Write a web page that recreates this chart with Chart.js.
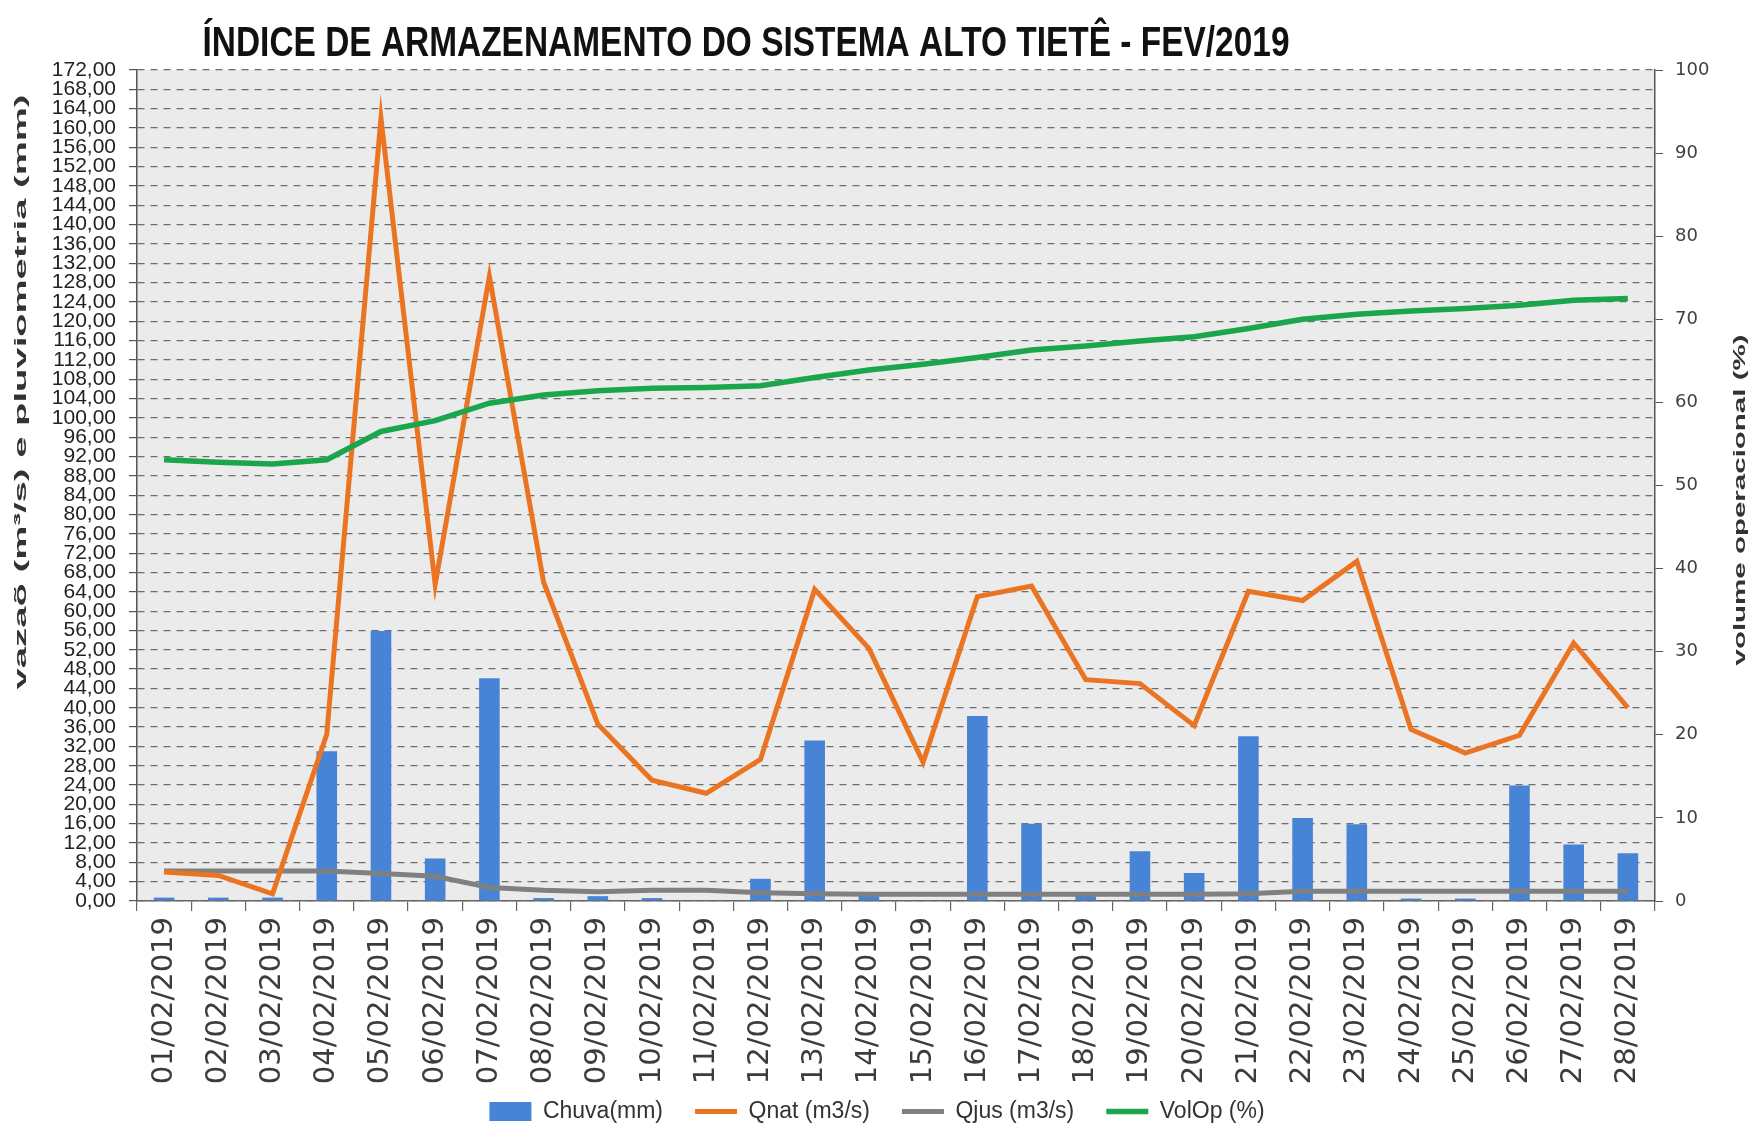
<!DOCTYPE html>
<html lang="pt-BR">
<head>
<meta charset="UTF-8">
<title>Índice de Armazenamento - Alto Tietê</title>
<script src="https://cdn.jsdelivr.net/npm/chart.js"></script>
<style>
    html, body { margin: 0; padding: 0; background: #fff; }
    #wrap { width: 1754px; height: 1125px; position: relative; }
</style>
</head>
<body>
<div id="wrap"><canvas id="chartAltoTiete"></canvas></div>
<script>
// dados de fevereiro/2019
const dias = [
    '01/02/2019', '02/02/2019', '03/02/2019', '04/02/2019', '05/02/2019', '06/02/2019', '07/02/2019',
    '08/02/2019', '09/02/2019', '10/02/2019', '11/02/2019', '12/02/2019', '13/02/2019', '14/02/2019',
    '15/02/2019', '16/02/2019', '17/02/2019', '18/02/2019', '19/02/2019', '20/02/2019', '21/02/2019',
    '22/02/2019', '23/02/2019', '24/02/2019', '25/02/2019', '26/02/2019', '27/02/2019', '28/02/2019'
];
const chuva = [0.7, 0.7, 0.7, 31.0, 55.9, 8.8, 46.1, 0.6, 1.0, 0.6, 0, 4.6, 33.2, 1.2,
               0, 38.3, 16.0, 1.2, 10.3, 5.8, 34.1, 17.2, 15.9, 0.5, 0.5, 23.9, 11.7, 9.9];
const qnat = [6.0, 5.3, 1.5, 34.5, 162.0, 65.5, 129.3, 66.0, 36.6, 25.0, 22.3, 29.3, 64.5, 52.3,
              28.7, 63.0, 65.2, 45.8, 45.0, 36.3, 64.1, 62.2, 70.3, 35.5, 30.6, 34.3, 53.4, 40.0];
const qjus = [6.2, 6.2, 6.2, 6.2, 5.7, 5.1, 2.8, 2.2, 1.9, 2.2, 2.2, 1.7, 1.5, 1.4,
              1.4, 1.4, 1.4, 1.4, 1.4, 1.4, 1.5, 2.0, 2.0, 2.0, 2.0, 2.0, 2.0, 2.0];
const volOp = [53.1, 52.8, 52.6, 53.1, 56.5, 57.8, 59.9, 60.9, 61.4, 61.7, 61.8, 62.0, 63.0, 63.9,
               64.6, 65.4, 66.3, 66.8, 67.4, 67.9, 68.9, 70.0, 70.6, 71.0, 71.3, 71.7, 72.3, 72.5];

// eixos
const vazaoMax = 172, vazaoStep = 4;
const volMax = 100, volStep = 10;

const titulo = 'ÍNDICE DE ARMAZENAMENTO DO SISTEMA ALTO TIETÊ - FEV/2019';
const tituloEsq = 'vazaõ (m³/s) e pluviometria (mm)';
const tituloDir = 'volume operacional (%)';

const padBottom = -8;

// write a text squeezed/stretched to a given length
function textoAjustado(ctx, txt, x, y, len, rot) {
    ctx.save();
    ctx.translate(x, y);
    ctx.rotate(rot);
    const w = ctx.measureText(txt).width;
    ctx.scale(len / w, 1);
    ctx.textAlign = 'center';
    ctx.fillText(txt, 0, 0);
    ctx.restore();
}

const fundoPlugin = {
    id: 'fundo',
    afterLayout(chart) {
        // the date labels run down behind the legend box, so don't clip them there
        const sx = chart.scales.x;
        sx.bottom = chart.height;
    },
    beforeDraw(chart) {
        const {ctx, chartArea: a} = chart;
        ctx.save();
        ctx.fillStyle = '#ffffff';
        ctx.fillRect(0, 0, chart.width, chart.height);
        ctx.fillStyle = '#ebebeb';
        ctx.fillRect(a.left, a.top, a.right - a.left, a.bottom - a.top);
        ctx.restore();
    },
    afterDraw(chart) {
        const ctx = chart.ctx;
        ctx.save();
        ctx.fillStyle = '#111';
        ctx.textBaseline = 'alphabetic';
        ctx.font = "bold 42px 'Liberation Sans', Arial, sans-serif";
        textoAjustado(ctx, titulo, 746, 56, 1087, 0);

        ctx.fillStyle = '#333';
        ctx.textBaseline = 'middle';
        ctx.font = "bold 17px 'Liberation Sans', Arial, sans-serif";
        textoAjustado(ctx, tituloEsq, 21, 392, 595, -Math.PI / 2);
        textoAjustado(ctx, tituloDir, 1740, 500, 331, -Math.PI / 2);
        ctx.restore();
    }
};

Chart.defaults.font.family = "'Liberation Sans', Arial, sans-serif";

const ctx = document.getElementById('chartAltoTiete').getContext('2d');
const chartAltoTiete = new Chart(ctx, {
    type: 'bar',
    data: {
        labels: dias,
        datasets: [
            {
                type: 'bar',
                label: 'Chuva(mm)',
                data: chuva,
                backgroundColor: '#4784d6',
                borderWidth: 0,
                yAxisID: 'y',
                categoryPercentage: 1.0,
                barPercentage: 0.38,
                order: 4
            },
            {
                type: 'line',
                label: 'Qnat (m3/s)',
                data: qnat,
                borderColor: '#eb7423',
                backgroundColor: '#eb7423',
                borderWidth: 5,
                pointRadius: 0,
                tension: 0,
                yAxisID: 'y',
                order: 2
            },
            {
                type: 'line',
                label: 'Qjus (m3/s)',
                data: qjus,
                borderColor: '#808080',
                backgroundColor: '#808080',
                borderWidth: 5,
                pointRadius: 0,
                tension: 0,
                yAxisID: 'y',
                order: 3
            },
            {
                type: 'line',
                label: 'VolOp (%)',
                data: volOp,
                borderColor: '#1ba54c',
                backgroundColor: '#1ba54c',
                borderWidth: 5.5,
                pointRadius: 0,
                tension: 0,
                yAxisID: 'yVol',
                order: 1
            }
        ]
    },
    options: {
        responsive: true,
        maintainAspectRatio: false,
        animation: false,
        layout: { padding: { top: 70, left: 0, right: 0, bottom: padBottom } },
        plugins: {
            title: { display: false },
            tooltip: { enabled: false },
            legend: {
                position: 'bottom',
                labels: {
                    color: '#333',
                    font: { size: 23 },
                    usePointStyle: true,
                    pointStyleWidth: 42,
                    boxHeight: 19,
                    padding: 32,
                    sort: (a, b) => a.datasetIndex - b.datasetIndex,
                    generateLabels(chart) {
                        const itens = Chart.defaults.plugins.legend.labels.generateLabels(chart);
                        itens.forEach(it => {
                            it.pointStyle = chart.data.datasets[it.datasetIndex].type === 'line' ? 'line' : 'rect';
                        });
                        return itens;
                    }
                }
            }
        },
        scales: {
            x: {
                offset: true,
                grid: { display: true, drawOnChartArea: false, offset: true, tickLength: 10, color: '#666', lineWidth: 1.2 },
                border: { color: '#666', width: 1.5 },
                ticks: {
                    autoSkip: false,
                    minRotation: 90,
                    maxRotation: 90,
                    padding: 6,
                    color: '#3c3c3c',
                    font: { family: "'DejaVu Sans', sans-serif", size: 29 }
                },
                afterFit(s) {
                    const leg = s.chart.legend ? s.chart.legend.height : 44;
                    s.height = s.chart.height - padBottom - leg - 901;
                }
            },
            y: {
                position: 'left',
                min: 0,
                max: vazaoMax,
                ticks: {
                    stepSize: vazaoStep,
                    autoSkip: false,
                    color: '#222',
                    padding: 13,
                    font: { size: 21 },
                    callback: v => v.toFixed(2).replace('.', ',')
                },
                grid: { color: '#6e6e6e', lineWidth: 1.2, tickLength: 8, tickColor: '#555' },
                border: { dash: [7, 6], color: '#555', width: 1.5 },
                afterFit(s) { s.width = 137; }
            },
            yVol: {
                position: 'right',
                min: 0,
                max: volMax,
                ticks: {
                    stepSize: volStep,
                    color: '#404040',
                    padding: 12,
                    font: { family: "'DejaVu Sans', sans-serif", size: 18 }
                },
                grid: { drawOnChartArea: false, tickLength: 8, color: '#555' },
                border: { color: '#555', width: 1.5 },
                afterFit(s) { s.width = 99; }
            }
        }
    },
    plugins: [fundoPlugin]
});
</script>
</body>
</html>
